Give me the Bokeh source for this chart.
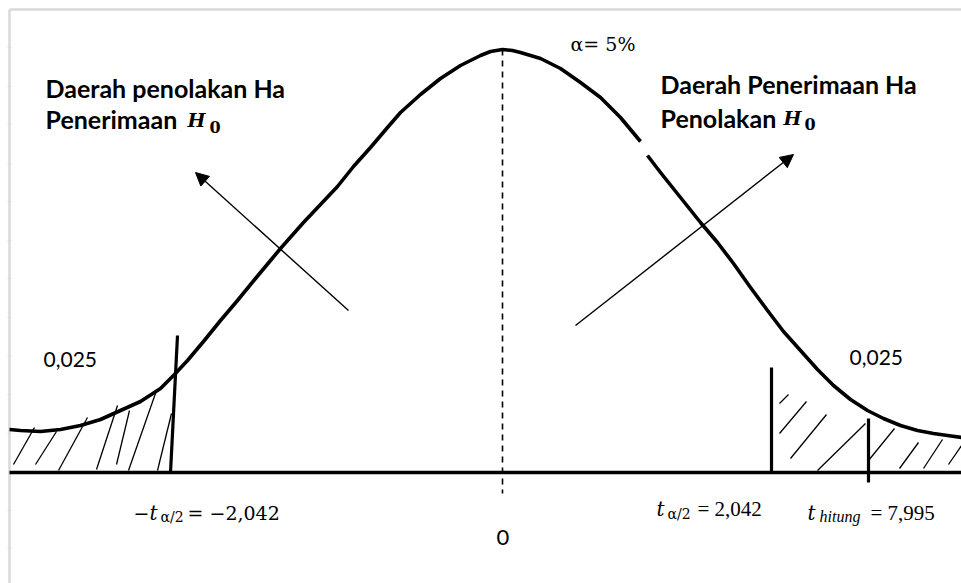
from bokeh.plotting import figure
from bokeh.models import Range1d, Arrow, NormalHead
from bokeh.core.properties import value
from bokeh.embed import file_html
from bokeh.resources import INLINE

# ---- diagram data (drawing units: x to the right, y downward) ----
# density curve (with the small break on the right flank)
curve_left_x = [9, 20, 40, 60, 80, 100, 120, 140, 160, 173, 187, 203, 220, 237, 255, 270, 280, 303, 320, 337, 353,
                370, 387, 400, 420, 440, 460, 480, 490, 502, 512, 520, 540, 560, 580, 600, 620, 640]
curve_left_y = [429, 430, 431, 429, 425, 419, 410, 401, 388, 375, 360, 341, 320, 300, 278, 260, 248, 222, 204, 186, 166,
                147, 127, 112, 94, 78, 65, 55, 51, 49, 50, 52, 58, 68, 82, 97, 117, 141]
curve_right_x = [647, 660, 680, 700, 717, 733, 750, 767, 783, 800, 817, 833, 850, 867, 883, 900, 917, 933, 947, 961]
curve_right_y = [155, 172, 197, 222, 242, 263, 287, 310, 331, 350, 369, 385, 399, 410, 418, 425, 430, 433, 435, 437]

# hatching of the two rejection tails
hatch_left_x0 = [13, 35, 58, 96, 116, 128, 157]
hatch_left_y0 = [464, 464, 470, 469, 464, 470, 470]
hatch_left_x1 = [34, 56, 87, 117, 129, 156, 171]
hatch_left_y1 = [427, 431, 417, 405, 410, 390, 413]
hatch_right_x0 = [779, 779, 790, 817, 868, 899, 923, 948]
hatch_right_y0 = [403, 433, 458, 470, 460, 468, 468, 464]
hatch_right_x1 = [788, 806, 826, 865, 894, 918, 942, 961]
hatch_right_y1 = [394, 401, 414, 423, 428, 442, 439, 445]

# vertical markers: -t(a/2), t(a/2), t hitung
marker_x0 = [177, 771, 868]
marker_y0 = [335, 367, 418]
marker_x1 = [170, 771, 868]
marker_y1 = [472, 472, 482]

# baseline, mean line
axis_x = [9, 961]
axis_y = 472
mean_x = 502
mean_y = [49, 493]

# arrows (tail -> head)
arrow_tail_x = [348, 575]
arrow_tail_y = [310, 325]
arrow_head_x = [195, 793]
arrow_head_y = [172, 154]

# canvas frame ticks
frame_ticks_y = [47, 86, 124, 163, 201, 240, 278, 317, 356, 394, 433, 510, 548]

# texts
heading_text = ["Daerah penolakan Ha", "Penerimaan", "Daerah Penerimaan Ha", "Penolakan"]
heading_x = [45, 45, 660, 660]
heading_y = [87, 118, 83, 117]
h_text = ["H", "H"]
h_x = [187, 783]
h_y = [119, 117]
h_sub = ["0", "0"]
h_sub_x = [209, 804]
h_sub_y = [126, 123]
prob_text = ["0,025", "0,025"]
prob_x = [43, 849]
prob_y = [359, 357]
alpha_text = "α= 5%"
zero_text = "0"
crit_sub = ["α/2", "α/2"]
crit_value_text = ["= −2,042"]
value_text = ["= 2,042", "= 7,995"]
hitung_text = "hitung"

p = figure(width=961, height=583, x_range=Range1d(0, 961), y_range=Range1d(583, 0),
           output_backend="svg", toolbar_location=None, x_axis_type=None, y_axis_type=None,
           min_border=0)
p.grid.visible = False
p.outline_line_color = None
p.background_fill_color = "white"

# canvas frame (left and top edges) with faint ticks
p.segment(x0=[9, 9], y0=[9, 9], x1=[9, 961], y1=[583, 9], line_color="#d9d9d9", line_width=2.5)
p.segment(x0=[7] * len(frame_ticks_y), y0=frame_ticks_y, x1=[11] * len(frame_ticks_y), y1=frame_ticks_y,
          line_color="#dcdcdc", line_width=1)

# baseline
p.line(x=axis_x, y=[axis_y, axis_y], line_color="black", line_width=3.5)
# mean dashed line
p.line(x=[mean_x, mean_x], y=mean_y, line_color="black", line_width=1.6, line_dash="6 5")

# curve
p.line(x=curve_left_x, y=curve_left_y, line_color="black", line_width=3.6, line_join="round")
p.line(x=curve_right_x, y=curve_right_y, line_color="black", line_width=3.6, line_join="round")

# hatching
p.segment(x0=hatch_left_x0, y0=hatch_left_y0, x1=hatch_left_x1, y1=hatch_left_y1, line_color="black", line_width=1.3)
p.segment(x0=hatch_right_x0, y0=hatch_right_y0, x1=hatch_right_x1, y1=hatch_right_y1, line_color="black", line_width=1.3)

# markers
p.segment(x0=marker_x0, y0=marker_y0, x1=marker_x1, y1=marker_y1, line_color="black", line_width=3.2)

# arrows
for xs, ys, xe, ye in zip(arrow_tail_x, arrow_tail_y, arrow_head_x, arrow_head_y):
    p.add_layout(Arrow(end=NormalHead(size=13, fill_color="black", line_color="black", line_width=1),
                       x_start=xs, y_start=ys, x_end=xe, y_end=ye, line_color="black", line_width=1.4))

# headings
p.text(x=heading_x, y=heading_y, text=heading_text, text_font=value("Lato"), text_font_style="bold",
       text_font_size="25px", text_baseline="alphabetic", text_align="left", text_color="black")
p.text(x=h_x, y=h_y, text=h_text, text_font=value("DejaVu Serif"), text_font_style="bold italic",
       text_font_size="19px", text_baseline="alphabetic", text_align="left", text_color="black")
p.text(x=h_sub_x, y=h_sub_y, text=h_sub, text_font=value("DejaVu Serif"), text_font_style="bold",
       text_font_size="16px", text_baseline="alphabetic", text_align="left", text_color="black")

# probabilities and zero
p.text(x=prob_x, y=prob_y, text=prob_text, text_font=value("Lato"), text_font_size="21px",
       text_baseline="alphabetic", text_align="left", text_color="black")
p.text(x=[496], y=[537], text=[zero_text], text_font=value("Lato"), text_font_size="22px",
       text_baseline="alphabetic", text_align="left", text_color="black")

# alpha
p.text(x=[570], y=[43], text=[alpha_text], text_font=value("DejaVu Serif"), text_font_size="19px",
       text_baseline="alphabetic", text_align="left", text_color="black")

# critical value labels (pieces: minus, italic t, subscript, value)
serif = value("Liberation Serif")
p.text(x=[133], y=[512], text=["−"], text_font=value("DejaVu Serif"), text_font_size="19px",
       text_baseline="alphabetic", text_align="left", text_color="black")
p.text(x=[149, 656, 807], y=[512, 508, 512], text=["t", "t", "t"], text_font=value("DejaVu Serif"),
       text_font_style="italic", text_font_size="20px", text_baseline="alphabetic", text_align="left",
       text_color="black")
p.text(x=[160, 667], y=[516, 513], text=crit_sub, text_font=value("DejaVu Serif"),
       text_font_size="14px", text_baseline="alphabetic", text_align="left", text_color="black")
p.text(x=[819], y=[516], text=[hitung_text], text_font=serif, text_font_style="italic",
       text_font_size="16px", text_baseline="alphabetic", text_align="left", text_color="black")
p.text(x=[187], y=[512], text=crit_value_text, text_font=value("DejaVu Serif"),
       text_font_size="19px", text_baseline="alphabetic", text_align="left", text_color="black")
p.text(x=[697, 870], y=[508, 512], text=value_text, text_font=serif,
       text_font_size="21px", text_baseline="alphabetic", text_align="left", text_color="black")

open("out.html", "w").write(file_html(p, INLINE))
